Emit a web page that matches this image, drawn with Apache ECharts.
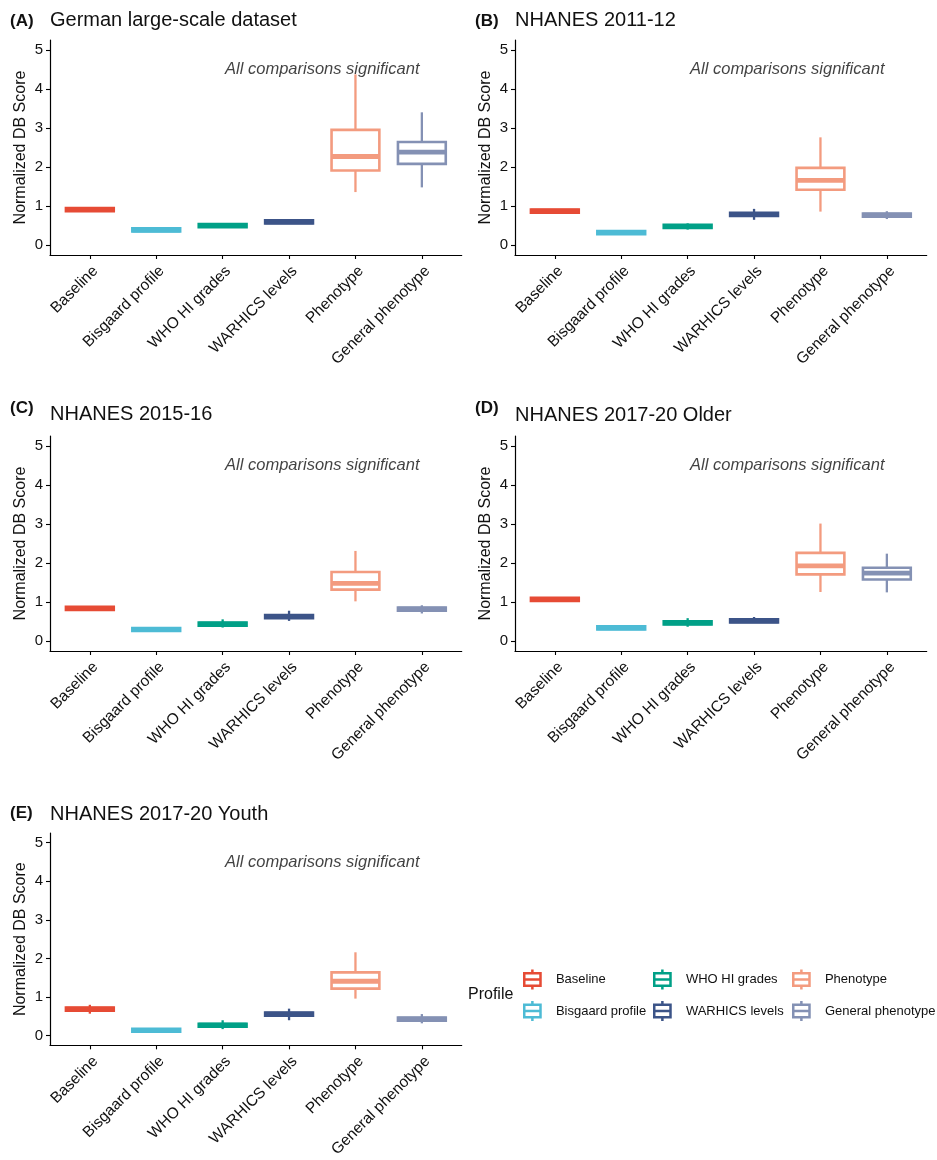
<!DOCTYPE html>
<html>
<head>
<meta charset="utf-8">
<script src="https://cdn.jsdelivr.net/npm/echarts@6/dist/echarts.min.js"></script>
<style>
html,body{margin:0;padding:0;background:#fff;}
#chart{width:937px;height:1160px;}
</style>
</head>
<body>
<div id="chart"></div>
<script>
const categories = ['Baseline','Bisgaard profile','WHO HI grades','WARHICS levels','Phenotype','General phenotype'];
const colors = ['#E64B35','#4DBBD5','#00A087','#3C5488','#F39B7F','#8491B4'];
const panelTags = ['(A)','(B)','(C)','(D)','(E)'];
const panelTitles = ['German large-scale dataset','NHANES 2011-12','NHANES 2015-16','NHANES 2017-20 Older','NHANES 2017-20 Youth'];
const yTicks = [0,1,2,3,4,5];
const annotationText = 'All comparisons significant';
const annotationPos = [4.5, 4.5];
const legendTitle = 'Profile';
const yAxisTitle = 'Normalized DB Score';

// each row: [lower whisker, Q1, median, Q3, upper whisker]
const germanData = [
  [0.87,0.87,0.91,0.95,0.95],
  [0.35,0.35,0.39,0.43,0.43],
  [0.46,0.46,0.50,0.54,0.54],
  [0.56,0.56,0.60,0.64,0.64],
  [1.36,1.91,2.27,2.95,4.37],
  [1.48,2.08,2.38,2.64,3.40]
];
const nhanes1112Data = [
  [0.83,0.83,0.87,0.91,0.91],
  [0.28,0.28,0.32,0.36,0.36],
  [0.40,0.44,0.48,0.52,0.56],
  [0.65,0.75,0.79,0.83,0.93],
  [0.86,1.42,1.66,1.98,2.76],
  [0.67,0.73,0.77,0.81,0.87]
];
const nhanes1516Data = [
  [0.80,0.80,0.84,0.88,0.88],
  [0.26,0.26,0.30,0.34,0.34],
  [0.35,0.40,0.44,0.48,0.56],
  [0.52,0.59,0.63,0.67,0.78],
  [1.02,1.32,1.48,1.77,2.31],
  [0.71,0.78,0.82,0.86,0.92]
];
const nhanesOlderData = [
  [1.03,1.03,1.07,1.11,1.11],
  [0.30,0.30,0.34,0.38,0.38],
  [0.37,0.43,0.47,0.51,0.59],
  [0.48,0.48,0.52,0.56,0.62],
  [1.26,1.71,1.93,2.26,3.01],
  [1.25,1.58,1.74,1.88,2.24]
];
const nhanesYouthData = [
  [0.57,0.65,0.69,0.73,0.80],
  [0.10,0.10,0.14,0.18,0.18],
  [0.17,0.23,0.27,0.31,0.40],
  [0.40,0.52,0.56,0.60,0.70],
  [0.96,1.22,1.41,1.64,2.16],
  [0.32,0.39,0.43,0.47,0.56]
];
const panelData = [germanData, nhanes1112Data, nhanes1516Data, nhanesOlderData, nhanesYouthData];

const FONT = "'Liberation Sans', Arial, Helvetica, sans-serif";
const TXT = '#111111';

const grids = [
  {left: 50, top: 40, width: 411.7, height: 215},
  {left: 515, top: 40, width: 411.7, height: 215},
  {left: 50, top: 436, width: 411.7, height: 215},
  {left: 515, top: 436, width: 411.7, height: 215},
  {left: 50, top: 833, width: 411.7, height: 214}
];
const tagPos = [[10,12.5],[475,12.5],[10,399.5],[475,399.5],[10,805]];
const titlePos = [[50,10.5],[515,10.5],[50,404],[515,405],[50,804]];

const catIdx = categories.map((c,i)=>i+1);

function renderBox(params, api){
  const x = api.value(0);
  const lo = api.coord([x, api.value(1)]);
  const q1 = api.coord([x, api.value(2)]);
  const md = api.coord([x, api.value(3)]);
  const q3 = api.coord([x, api.value(4)]);
  const hi = api.coord([x, api.value(5)]);
  const bw = api.size([0.72, 0])[0];
  const color = api.visual('color');
  const cx = md[0];
  return {
    type: 'group',
    children: [
      {type:'line', shape:{x1:cx, y1:hi[1], x2:cx, y2:q3[1]}, style:{stroke:color, lineWidth:2.3}},
      {type:'line', shape:{x1:cx, y1:q1[1], x2:cx, y2:lo[1]}, style:{stroke:color, lineWidth:2.3}},
      {type:'rect', shape:{x:cx-bw/2, y:q3[1], width:bw, height:Math.max(q1[1]-q3[1],0)},
        style:{fill:'#ffffff', stroke:color, lineWidth:2.6}},
      {type:'line', shape:{x1:cx-bw/2, y1:md[1], x2:cx+bw/2, y2:md[1]}, style:{stroke:color, lineWidth:4.8}}
    ]
  };
}

const xAxes = [], yAxes = [], series = [], titles = [];
grids.forEach((g, p) => {
  xAxes.push({
    type: 'value', gridIndex: p, min: 0.4, max: 6.6,
    axisLine: {show: true, onZero: false, lineStyle: {color: '#000', width: 1.2}},
    axisTick: {show: true, length: 4, customValues: catIdx, lineStyle: {color: '#000', width: 1.1}},
    axisLabel: {
      customValues: catIdx, rotate: 45, margin: 8, fontSize: 15.5, color: TXT, fontFamily: FONT,
      align: 'right', verticalAlign: 'top',
      formatter: v => categories[Math.round(v) - 1] || ''
    },
    splitLine: {show: false}
  });
  yAxes.push({
    type: 'value', gridIndex: p, min: -0.25, max: 5.25,
    name: yAxisTitle, nameLocation: 'middle', nameGap: 21,
    nameTextStyle: {fontSize: 16, color: TXT, fontFamily: FONT},
    axisLine: {show: true, onZero: false, lineStyle: {color: '#000', width: 1.2}},
    axisTick: {show: true, length: 4, customValues: yTicks, lineStyle: {color: '#000', width: 1.1}},
    axisLabel: {customValues: yTicks, margin: 7, fontSize: 15, color: TXT, fontFamily: FONT},
    splitLine: {show: false}
  });
  panelData[p].forEach((row, i) => {
    series.push({
      type: 'custom', name: categories[i], xAxisIndex: p, yAxisIndex: p,
      itemStyle: {color: colors[i]},
      renderItem: renderBox,
      encode: {x: 0, y: [1,2,3,4,5]},
      data: [[i + 1].concat(row)],
      z: 3
    });
  });
  series.push({
    type: 'scatter', name: 'annotation', xAxisIndex: p, yAxisIndex: p,
    symbolSize: 0, silent: true,
    data: [annotationPos],
    label: {show: true, position: 'inside', formatter: annotationText,
      fontSize: 16.5, fontStyle: 'italic', color: TXT, fontFamily: FONT},
    z: 5
  });
  titles.push({
    text: panelTags[p], left: tagPos[p][0], top: tagPos[p][1], padding: 0,
    textStyle: {fontSize: 17, fontWeight: 'bold', color: TXT, fontFamily: FONT, lineHeight: 17}
  });
  titles.push({
    text: panelTitles[p], left: titlePos[p][0], top: titlePos[p][1], padding: 0,
    textStyle: {fontSize: 20, fontWeight: 'normal', color: TXT, fontFamily: FONT, lineHeight: 20}
  });
});
titles.push({
  text: legendTitle, left: 468, top: 987, padding: 0,
  textStyle: {fontSize: 16, fontWeight: 'normal', color: TXT, fontFamily: FONT, lineHeight: 16}
});

const boxIcon = 'path://M6.5,0H8.5V2H6.5Z M0,2H15V4H0Z M0,7H15V9H0Z M0,12H15V14H0Z M6.5,14H8.5V16H6.5Z M0,2H2V14H0Z M13,2H15V14H13Z';
const legendCols = [[categories[0], categories[1]], [categories[2], categories[3]], [categories[4], categories[5]]];
const legendLeft = [523, 653, 792];
const legends = legendCols.map((names, k) => ({
  orient: 'vertical', left: legendLeft[k], top: 969.5, padding: 0,
  itemWidth: 19, itemHeight: 20, itemGap: 11.5,
  icon: boxIcon,
  data: names.map(n => ({name: n, icon: boxIcon})),
  selectedMode: false,
  textStyle: {fontSize: 13, color: TXT, fontFamily: FONT, padding: [0,0,0,9]}
}));

const chart = echarts.init(document.getElementById('chart'), null, {renderer: 'canvas'});
chart.setOption({
  backgroundColor: '#ffffff',
  animation: false,
  textStyle: {fontFamily: FONT},
  title: titles,
  legend: legends,
  grid: grids,
  xAxis: xAxes,
  yAxis: yAxes,
  series: series
});
</script>
</body>
</html>
